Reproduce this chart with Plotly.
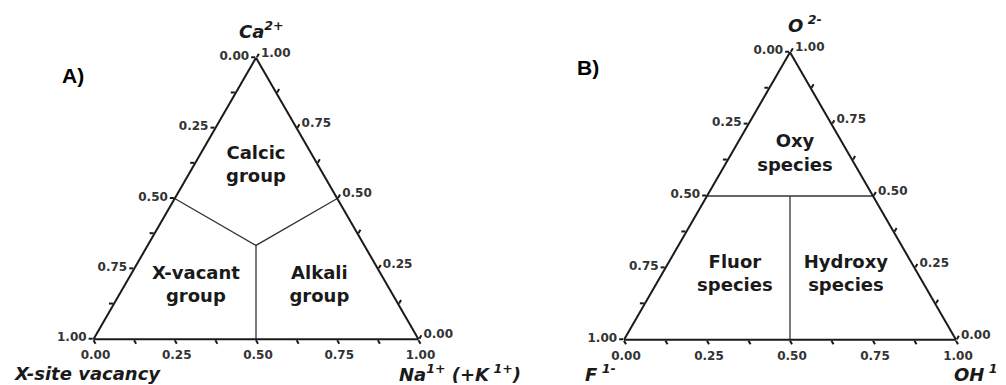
import plotly.graph_objects as go

# ---------------- data ----------------
tick_vals = [0, 0.125, 0.25, 0.375, 0.5, 0.625, 0.75, 0.875, 1.0]
tick_text = ["1.00", "", "0.75", "", "0.50", "", "0.25", "", "0.00"]

# Panel A: a = Ca2+, b = X-site vacancy, c = Na1+ (+K1+)
a_bound1_ca = [0.5, 1/3, 0.5]
a_bound1_vac = [0.5, 1/3, 0.0]
a_bound1_na = [0.0, 1/3, 0.5]
a_bound2_ca = [1/3, 0.0]
a_bound2_vac = [1/3, 0.5]
a_bound2_na = [1/3, 0.5]
a_region_names = ["Calcic<br>group", "X-vacant<br>group", "Alkali<br>group"]
a_region_ca = [0.615, 0.19, 0.19]
a_region_vac = [0.1925, 0.59, 0.21]
a_region_na = [0.1925, 0.22, 0.60]

# Panel B: a = O2-, b = F1-, c = OH1-
b_bound1_o = [0.5, 0.5]
b_bound1_f = [0.5, 0.0]
b_bound1_oh = [0.0, 0.5]
b_bound2_o = [0.5, 0.0]
b_bound2_f = [0.25, 0.5]
b_bound2_oh = [0.25, 0.5]
b_region_names = ["Oxy<br>species", "Fluor<br>species", "Hydroxy<br>species"]
b_region_o = [0.645, 0.225, 0.225]
b_region_f = [0.1625, 0.5535, 0.219]
b_region_oh = [0.1925, 0.2215, 0.556]

# ---------------- styles ----------------
INK = "#1a1a1a"
tickfont = dict(family="DejaVu Sans", size=12, color="#333333", weight="bold")
region_font = dict(family="DejaVu Sans", size=18, color=INK, weight="bold")
corner_font = dict(family="DejaVu Sans", size=18, color=INK)
panel_font = dict(family="Liberation Sans", size=21, color="#000000")

fig = go.Figure()

def add_lines(sub, a, b, c):
    fig.add_trace(go.Scatterternary(
        a=a, b=b, c=c, mode="lines", subplot=sub,
        line=dict(color="#333333", width=1.3),
        hoverinfo="skip", showlegend=False))

add_lines("ternary", a_bound1_ca, a_bound1_vac, a_bound1_na)
add_lines("ternary", a_bound2_ca, a_bound2_vac, a_bound2_na)
add_lines("ternary2", b_bound1_o, b_bound1_f, b_bound1_oh)
add_lines("ternary2", b_bound2_o, b_bound2_f, b_bound2_oh)

fig.add_trace(go.Scatterternary(
    a=a_region_ca, b=a_region_vac, c=a_region_na, text=a_region_names,
    mode="text", textposition="middle center", textfont=region_font,
    subplot="ternary", hoverinfo="skip", showlegend=False))
fig.add_trace(go.Scatterternary(
    a=b_region_o, b=b_region_f, c=b_region_oh, text=b_region_names,
    mode="text", textposition="middle center", textfont=region_font,
    subplot="ternary2", hoverinfo="skip", showlegend=False))

def axis():
    return dict(
        tickmode="array", tickvals=tick_vals, ticktext=tick_text,
        tickfont=tickfont, ticks="outside", ticklen=4, tickwidth=1.5,
        tickcolor=INK, showline=True, linecolor=INK, linewidth=2,
        showgrid=False, title=dict(text=""), min=0)

# the page body has an 8px default margin; size the figure to fit inside
OFF = 8
W, H = 1006 - OFF, 385 - OFF

def px(x, y):
    return (x - OFF) / W, 1 - (y - OFF) / H

def dom(x0, x1, y0, y1):
    xa, ya = px(x0, y1)
    xb, yb = px(x1, y0)
    return dict(x=[xa, xb], y=[ya, yb])

fig.update_layout(
    width=W, height=H,
    margin=dict(l=0, r=0, t=0, b=0),
    paper_bgcolor="white", plot_bgcolor="white",
    ternary=dict(sum=1, domain=dom(93.5, 418.5, 57.75, 339.25),
                 bgcolor="white", aaxis=axis(), baxis=axis(), caxis=axis()),
    ternary2=dict(sum=1, domain=dom(624, 956, 52.25, 339.75),
                  bgcolor="white", aaxis=axis(), baxis=axis(), caxis=axis()),
    showlegend=False,
)

def ann(text, x, y, font, xanchor="center"):
    xp, yp = px(x, y)
    fig.add_annotation(text=text, x=xp, y=yp, xref="paper", yref="paper",
                       showarrow=False, font=font, xanchor=xanchor, yanchor="middle")

ann("<b>A)</b>", 73, 75, panel_font)
ann("<b>B)</b>", 588, 67, panel_font)
ann("<b><i>Ca<sup>2+</sup></i></b>", 262, 30, corner_font)
ann("<b><i>X-site vacancy</i></b>", 87, 373, corner_font)
ann("<b><i>Na<sup>1+</sup> (+K<sup> 1+</sup>)</i></b>", 397, 373, corner_font, "left")
ann("<b><i>O<sup> 2-</sup></i></b>", 805, 24, corner_font)
ann("<b><i>F<sup> 1-</sup></i></b>", 583, 373, corner_font, "left")
ann("<b><i>OH<sup> 1-</sup></i></b>", 952, 373, corner_font, "left")

fig.write_html("out.html")
